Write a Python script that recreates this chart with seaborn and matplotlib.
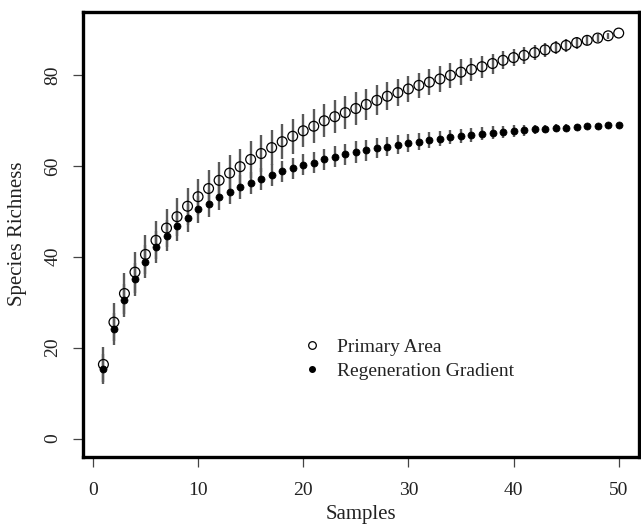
import numpy as np
import pandas as pd
import matplotlib
matplotlib.use("Agg")
import matplotlib.pyplot as plt
from matplotlib.lines import Line2D
import seaborn as sns

samples = list(range(1, 51))
primary_mean = [16.3, 25.6, 31.9, 36.6, 40.5, 43.6, 46.3, 48.8, 51.1, 53.2,
                55.0, 56.8, 58.4, 59.8, 61.4, 62.7, 64.0, 65.3, 66.5, 67.7,
                68.7, 69.9, 70.8, 71.7, 72.6, 73.5, 74.4, 75.3, 76.1, 76.9,
                77.7, 78.4, 79.1, 79.9, 80.6, 81.2, 81.8, 82.5, 83.2, 83.8,
                84.3, 84.9, 85.5, 86.0, 86.5, 87.1, 87.6, 88.1, 88.6, 89.2]
primary_sd = [3.8, 4.2, 4.5, 4.5, 4.3, 4.2, 4.2, 4.2, 4.1, 4.0,
              4.0, 4.0, 4.0, 4.0, 4.0, 4.0, 3.9, 3.9, 3.8, 3.6,
              3.7, 3.6, 3.6, 3.6, 3.6, 3.4, 3.3, 3.1, 3.0, 2.8,
              2.8, 2.8, 2.8, 2.8, 2.8, 2.6, 2.4, 2.2, 2.0, 1.9,
              1.8, 1.7, 1.6, 1.5, 1.4, 1.3, 1.1, 0.9, 0.6, 0.0]
regen_mean = [15.4, 24.1, 30.4, 35.0, 38.9, 42.1, 44.6, 46.7, 48.6, 50.4,
              51.7, 53.1, 54.3, 55.3, 56.2, 57.1, 58.0, 58.8, 59.5, 60.2,
              60.7, 61.4, 62.0, 62.5, 63.0, 63.4, 63.9, 64.2, 64.6, 65.0,
              65.3, 65.7, 66.0, 66.3, 66.5, 66.8, 67.1, 67.3, 67.5, 67.6,
              67.8, 68.0, 68.1, 68.3, 68.4, 68.6, 68.7, 68.8, 68.9, 69.0]
regen_sd = [3.3, 3.5, 3.6, 3.6, 3.6, 3.5, 3.4, 3.2, 3.1, 3.0,
            2.9, 2.8, 2.7, 2.6, 2.5, 2.4, 2.4, 2.3, 2.3, 2.3,
            2.3, 2.3, 2.3, 2.4, 2.4, 2.3, 2.2, 2.1, 2.1, 2.0,
            1.9, 1.8, 1.7, 1.6, 1.5, 1.5, 1.4, 1.4, 1.3, 1.3,
            1.2, 1.0, 0.9, 0.8, 0.7, 0.6, 0.5, 0.4, 0.3, 0.0]
series_labels = ["Primary Area", "Regeneration Gradient"]
x_ticks = [0, 10, 20, 30, 40, 50]
y_ticks = [0, 20, 40, 60, 80]

df = pd.DataFrame({
    "Samples": samples * 2,
    "Richness": primary_mean + regen_mean,
    "sd": primary_sd + regen_sd,
    "Area": [series_labels[0]] * 50 + [series_labels[1]] * 50,
})

sns.set_theme(style="white")
plt.rcParams["font.family"] = ["Liberation Serif", "DejaVu Serif"]

fig = plt.figure(figsize=(6.41, 5.26), dpi=100)
ax = fig.add_axes([82.7 / 641, 1 - 456.7 / 526, (639 - 82.7) / 641, (456.7 - 11.7) / 526])

# error bars
for lab in series_labels:
    sub = df[df["Area"] == lab]
    ax.errorbar(sub["Samples"], sub["Richness"], yerr=sub["sd"], fmt="none",
                ecolor="#5a5a5a", elinewidth=1.7, capsize=0, zorder=1)

prim = df[df["Area"] == series_labels[0]]
reg = df[df["Area"] == series_labels[1]]
sns.scatterplot(data=prim, x="Samples", y="Richness", ax=ax, marker="o",
                s=50, facecolors="none", edgecolor="black", linewidth=0.9,
                zorder=2, legend=False)
sns.scatterplot(data=reg, x="Samples", y="Richness", ax=ax, marker="o",
                s=26, color="black", edgecolor="black", linewidth=0.5,
                zorder=3, legend=False)

ax.set_xlim(-0.97, 51.93)
ax.set_ylim(-4.0, 93.9)
ax.set_xticks(x_ticks)
ax.set_yticks(y_ticks)
ax.set_xticklabels([str(t) for t in x_ticks], fontsize=14)
ax.set_yticklabels([str(t) for t in y_ticks], fontsize=14, rotation=90, va="center")
ax.tick_params(axis="both", direction="out", length=7.5, width=0.9, color="#444444",
               labelcolor="#222222", bottom=True, left=True)
ax.tick_params(axis="x", pad=10.5)
ax.tick_params(axis="y", pad=8)

for sp in ax.spines.values():
    sp.set_linewidth(2.4)
    sp.set_color("black")

ax.set_xlabel("Samples", fontsize=15, color="#222222", va="center")
ax.xaxis.set_label_coords(0.5, (456.7 - 515) / 445)
ax.set_ylabel("Species Richness", fontsize=15, color="#222222", va="center")
ax.yaxis.set_label_coords((18 - 82.7) / 556.3, 0.5)

handles = [
    Line2D([], [], linestyle="none", marker="o", markersize=5.5, markerfacecolor="none",
           markeredgecolor="black", markeredgewidth=0.9),
    Line2D([], [], linestyle="none", marker="o", markersize=4, markerfacecolor="black",
           markeredgecolor="black"),
]
ax.legend(handles, series_labels, loc="upper left",
          bbox_to_anchor=((302 - 82.7) / 556.3, (456.7 - 338) / 445),
          frameon=False, fontsize=14, handlelength=1.0, handletextpad=0.8,
          labelspacing=0.35, borderpad=0.0, borderaxespad=0.0, labelcolor="#222222")

fig.savefig("out.png", dpi=100)
